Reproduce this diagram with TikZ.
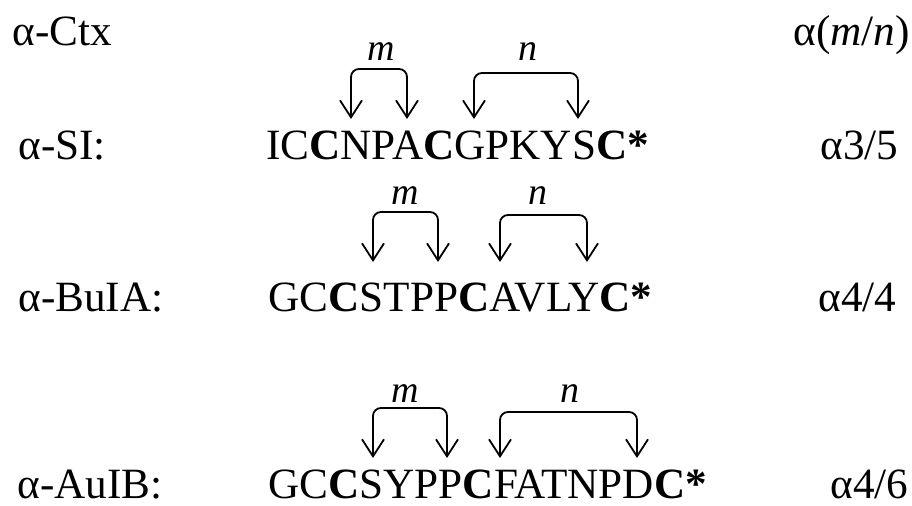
\documentclass[tikz,border=0pt]{standalone}
\usepackage{fontspec}
\setmainfont{Liberation Serif}
\usetikzlibrary{arrows.meta}
\tikzset{
  txt/.style={inner sep=0pt, anchor=base west, font=\fontsize{21.6}{25}\selectfont},
  lbl/.style={inner sep=0pt, anchor=base, font=\fontsize{19}{22}\selectfont\itshape},
  barb/.tip={Straight Barb[length=8.5pt,width=11pt,line width=0.9pt]},
  bracket/.style={line width=0.9pt, rounded corners=4pt, barb-barb}
}
\newcommand{\cys}{\textbf{C}}
\begin{document}
\begin{tikzpicture}[x=0.5pt,y=-0.5pt]
\useasboundingbox (0,0) rectangle (912,506);

% column headers
\node[txt] (hctx) at (12,46) {α-Ctx};
\node[txt] (hmn) at (793,46) {α(\textit{m}/\textit{n})};

% peptide names
\node[txt] (nsi) at (18,160) {α-SI:};
\node[txt] (nbu) at (18,312) {α-BuIA:};
\node[txt] (nau) at (17,499) {α-AuIB:};

% sequences
\node[txt] (ssi) at (266,160) {IC\cys NPA\cys GPKYS\textbf{C*}};
\node[txt] (sbu) at (268,312) {GC\cys STPP\cys AVLY\textbf{C*}};
\node[txt] (sau) at (268,499) {GC\cys SYPP\cys FATNPD\textbf{C*}};

% loop classes
\node[txt] (csi) at (820,160) {α3/5};
\node[txt] (cbu) at (818,312) {α4/4};
\node[txt] (cau) at (830,499) {α4/6};

% alpha-SI loops
\coordinate (a1) at (351,119); \coordinate (b1) at (407,119); \coordinate (t1) at (0,69);
\coordinate (c1) at (474,119); \coordinate (d1) at (578,119); \coordinate (u1) at (0,73);
\draw[bracket] (a1) -- (a1 |- t1) -- (b1 |- t1) -- (b1);
\draw[bracket] (c1) -- (c1 |- u1) -- (d1 |- u1) -- (d1);
\node[lbl] (m1) at (381,61) {m};
\node[lbl] (n1) at (528,61) {n};

% alpha-BuIA loops
\coordinate (a2) at (373,262); \coordinate (b2) at (438,262); \coordinate (t2) at (0,212);
\coordinate (c2) at (500,262); \coordinate (d2) at (587,262); \coordinate (u2) at (0,215);
\draw[bracket] (a2) -- (a2 |- t2) -- (b2 |- t2) -- (b2);
\draw[bracket] (c2) -- (c2 |- u2) -- (d2 |- u2) -- (d2);
\node[lbl] (m2) at (405,205) {m};
\node[lbl] (n2) at (538,205) {n};

% alpha-AuIB loops
\coordinate (a3) at (373,458); \coordinate (b3) at (447,458); \coordinate (t3) at (0,408);
\coordinate (c3) at (500,458); \coordinate (d3) at (637,458); \coordinate (u3) at (0,412);
\draw[bracket] (a3) -- (a3 |- t3) -- (b3 |- t3) -- (b3);
\draw[bracket] (c3) -- (c3 |- u3) -- (d3 |- u3) -- (d3);
\node[lbl] (m3) at (405,403) {m};
\node[lbl] (n3) at (570,403) {n};
\end{tikzpicture}
\end{document}
